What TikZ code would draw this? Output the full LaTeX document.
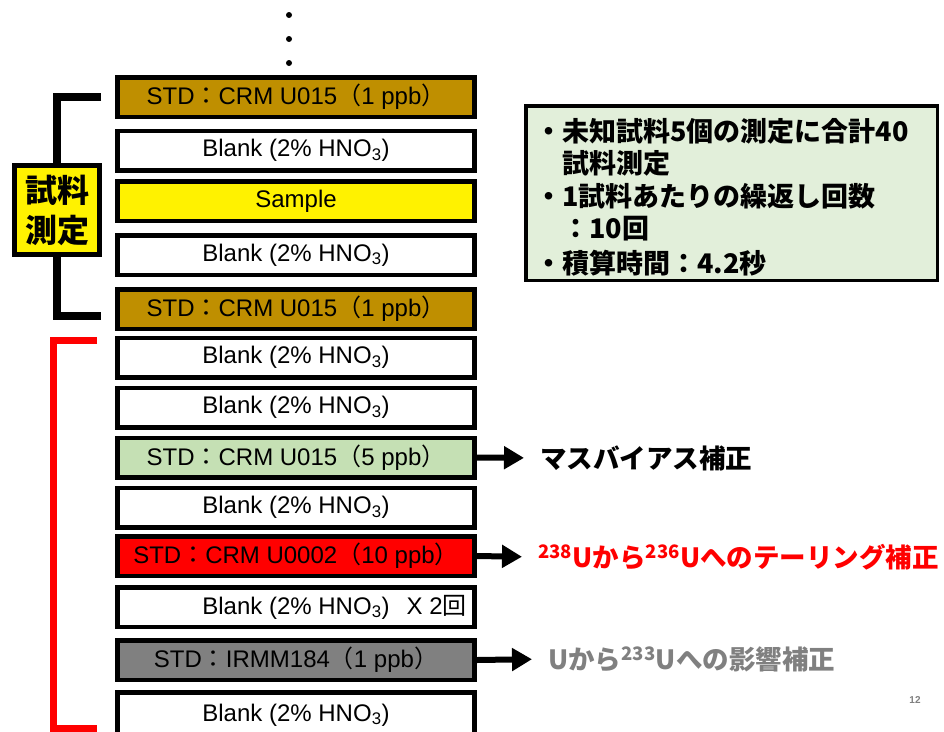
\documentclass[tikz,border=0pt]{standalone}
\usepackage{fontspec}
\setmainfont{Liberation Sans}
\newfontfamily\cjk{Noto Sans CJK JP}
\usetikzlibrary{arrows.meta}
\definecolor{stdbrown}{RGB}{191,143,0}
\definecolor{stdgreen}{RGB}{197,224,180}
\definecolor{infogreen}{RGB}{226,239,218}
\definecolor{labgrey}{RGB}{128,128,128}
\begin{document}
\begin{tikzpicture}[x=1pt,y=-1pt,
  sbox/.style={draw=black, line width=4.5pt, minimum width=357pt, minimum height=39.5pt, inner sep=0pt, font=\fontsize{24}{28}\selectfont, text=black},
  conn/.style={line width=6pt, -{Triangle[length=20pt,width=22pt]}, shorten >=16pt},
  lab/.style={anchor=west, inner sep=0pt, font=\cjk\bfseries\fontsize{26.5}{30}\selectfont},
  infoline/.style={anchor=west, inner sep=0pt, font=\cjk\bfseries\fontsize{27}{30}\selectfont},
  bracket/.style={line width=8pt},
]
\useasboundingbox (0,0) rectangle (944,731);
\fill[white] (0,0) rectangle (944,731);

% dots
\fill (289,15) circle (3pt);
\fill (289,39) circle (3pt);
\fill (289,63) circle (3pt);

% brackets
\draw[bracket] (101,97) -- (57,97) -- (57,316) -- (101,316);
\draw[line width=7pt, red] (97,340.5) -- (53.5,340.5) -- (53.5,728) -- (97,728);

\node[draw, line width=5pt, fill=yellow, minimum width=85pt, minimum height=89pt, inner sep=0pt, align=center, font=\cjk\bfseries\fontsize{32}{40}\selectfont] (shiryo) at (57,210) {試料\\測定};

% boxes
\node[sbox, fill=stdbrown] (b1) at (296,97) {STD{\cjk ：}CRM U015{\cjk （}1 ppb{\cjk ）}};
\node[sbox, fill=white] (b2) at (296,150.5) {Blank (2\% HNO\textsubscript{3})};
\node[sbox, fill=yellow] (b3) at (296,201) {Sample};
\node[sbox, fill=white] (b4) at (296,255) {Blank (2\% HNO\textsubscript{3})};
\node[sbox, fill=stdbrown] (b5) at (296,309) {STD{\cjk ：}CRM U015{\cjk （}1 ppb{\cjk ）}};
\node[sbox, fill=white] (b6) at (296,357.5) {Blank (2\% HNO\textsubscript{3})};
\node[sbox, fill=white] (b7) at (296,407.5) {Blank (2\% HNO\textsubscript{3})};
\node[sbox, fill=stdgreen] (b8) at (296,457.5) {STD{\cjk ：}CRM U015{\cjk （}5 ppb{\cjk ）}};
\node[sbox, fill=white] (b9) at (296,507.5) {Blank (2\% HNO\textsubscript{3})};
\node[sbox, fill=red] (b10) at (296,556) {STD{\cjk ：}CRM U0002{\cjk （}10 ppb{\cjk ）}};
\node[sbox, fill=white] (b11) at (296,607) {Blank (2\% HNO\textsubscript{3})\rlap{\hspace{17pt}X 2{\cjk 回}}};
\node[sbox, fill=labgrey] (b12) at (296,660) {STD{\cjk ：}IRMM184{\cjk （}1 ppb{\cjk ）}};
\node[sbox, fill=white, minimum height=45pt] (b13) at (296,715) {\raisebox{2.5pt}{Blank (2\% HNO\textsubscript{3})}};

% info box
\node[draw, line width=3.5pt, fill=infogreen, minimum width=411.5pt, minimum height=174.5pt, inner sep=0pt] (info) at (731.5,193) {};
\node[infoline] (i1) at (562,131) {\llap{・}未知試料5個の測定に合計40};
\node[infoline] (i2) at (562,163) {試料測定};
\node[infoline] (i3) at (562,196) {\llap{・}1試料あたりの繰返し回数};
\node[infoline] (i4) at (562,229) {：10回};
\node[infoline] (i5) at (562,263) {\llap{・}積算時間：4.2秒};

% labels
\node[lab] (l1) at (540,458) {マスバイアス補正};
\node[lab, text=red] (l2) at (538,557) {\textsuperscript{238}Uから\textsuperscript{236}Uへのテーリング補正};
\node[lab, text=labgrey] (l3) at (548,659) {Uから\textsuperscript{233}Uへの影響補正};

\draw[conn] (b8.east) -- (l1.west);
\draw[conn] (b10.east) -- (l2.west);
\draw[conn] (b12.east) -- (l3.west);

\node[font=\bfseries\fontsize{10}{12}\selectfont, text=labgrey] (pg) at (915,700) {12};
\end{tikzpicture}
\end{document}
